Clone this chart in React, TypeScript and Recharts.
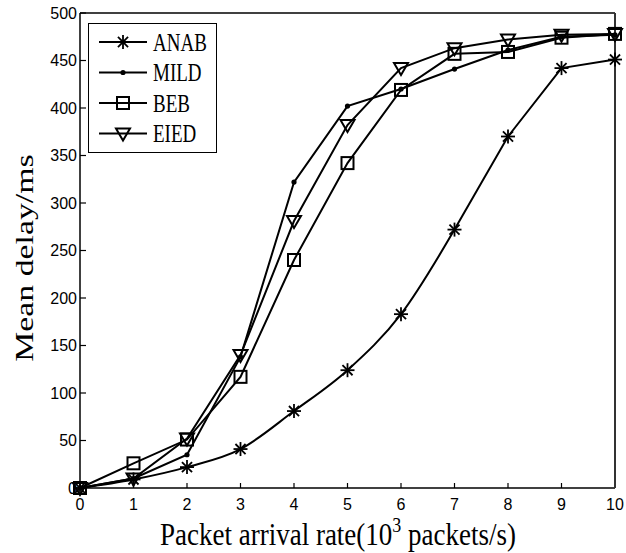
import React from 'react';
import { LineChart, Line, XAxis, YAxis, Legend } from 'recharts';

const rates = [0, 1, 2, 3, 4, 5, 6, 7, 8, 9, 10];
const anab = [0, 9, 22, 41, 81, 124, 183, 272, 370, 442, 451];
const mild = [0, 10, 35, 138, 322, 402, 420, 441, 461, 475, 477];
const beb = [0, 26, 51, 117, 240, 342, 419, 457, 459, 474, 478];
const eied = [0, 10, 52, 140, 281, 382, 442, 463, 472, 477, 478];
const xTicks = [0, 1, 2, 3, 4, 5, 6, 7, 8, 9, 10];
const yTicks = [0, 50, 100, 150, 200, 250, 300, 350, 400, 450, 500];
const seriesNames = ['ANAB', 'MILD', 'BEB', 'EIED'];
// ANAB is drawn smooth up to rate 7, straight afterwards
const anabSmoothUntil = 7;

const data = rates.map((r, i) => ({
  x: r,
  ANAB: anab[i],
  ANAB_smooth: r <= anabSmoothUntil ? anab[i] : null,
  ANAB_straight: r >= anabSmoothUntil ? anab[i] : null,
  MILD: mild[i],
  BEB: beb[i],
  EIED: eied[i],
}));

const SW = 2;

function StarMark({ cx, cy, s = 7 }: any) {
  const d = s * 0.72;
  return (
    <g stroke="#000" strokeWidth={1.8}>
      <line x1={cx - s} y1={cy} x2={cx + s} y2={cy} />
      <line x1={cx} y1={cy - s} x2={cx} y2={cy + s} />
      <line x1={cx - d} y1={cy - d} x2={cx + d} y2={cy + d} />
      <line x1={cx - d} y1={cy + d} x2={cx + d} y2={cy - d} />
    </g>
  );
}
function DotMark({ cx, cy }: any) {
  return <circle cx={cx} cy={cy} r={2.6} fill="#000" stroke="none" />;
}
function SquareMark({ cx, cy }: any) {
  return <rect x={cx - 6} y={cy - 6} width={12} height={12} fill="none" stroke="#000" strokeWidth={2} />;
}
function TriMark({ cx, cy }: any) {
  return (
    <polygon
      points={`${cx - 7},${cy - 5} ${cx + 7},${cy - 5} ${cx},${cy + 7}`}
      fill="none"
      stroke="#000"
      strokeWidth={2}
    />
  );
}
const marks: any = { ANAB: StarMark, MILD: DotMark, BEB: SquareMark, EIED: TriMark };

function makeDot(name: string, skipIndex: number = -1) {
  const M = marks[name];
  return (p: any) => {
    const v = p.value;
    const missing = v == null || (Array.isArray(v) && v[1] == null) || p.cy == null || Number.isNaN(p.cy);
    if (missing || p.index === skipIndex) return <g key={`${name}-${p.index}`} />;
    return <M key={`${name}-${p.index}`} cx={p.cx} cy={p.cy} />;
  };
}

function LegendBox() {
  return (
    <div style={{ width: 129, height: 130, border: '1.5px solid #000', background: '#fff', boxSizing: 'border-box' }}>
      <svg width={126} height={127}>
        {seriesNames.map((n, i) => {
          const y = 18 + i * 30.5;
          const M = marks[n];
          return (
            <g key={n}>
              <line x1={10} y1={y} x2={58} y2={y} stroke="#000" strokeWidth={SW} />
              <M cx={34} cy={y} />
              <text
                transform={`translate(64,${y + 8.5}) scale(1,1.32)`}
                fontFamily="'Liberation Serif', serif"
                fontSize={19}
                fill="#000"
              >
                {n}
              </text>
            </g>
          );
        })}
      </svg>
    </div>
  );
}

function XLabel(props: any) {
  return (
    <text
      transform="translate(338,545) scale(1,1.15)"
      textAnchor="middle"
      fontFamily="'Liberation Serif', serif"
      fontSize={27}
      fill="#000"
    >
      <tspan>Packet arrival rate(10</tspan>
      <tspan dy={-11} fontSize={18}>3</tspan>
      <tspan dy={11}> packets/s)</tspan>
    </text>
  );
}
function YLabel(props: any) {
  return (
    <text
      transform="translate(33,258) rotate(-90) scale(1.3,1)"
      textAnchor="middle"
      fontFamily="'Liberation Serif', serif"
      fontSize={26}
      fill="#000"
    >
      Mean delay/ms
    </text>
  );
}

const tickStyle = { fontFamily: "'Liberation Sans', Arial, sans-serif", fontSize: 16, fill: '#000' };
const tickLineStyle = { stroke: '#000', strokeWidth: 1.2 };

export default function App() {
  return (
    <div style={{ position: 'absolute', left: 0, top: 0, background: '#fff' }}>
      <LineChart width={626} height={553} data={data} margin={{ top: 0, right: 0, left: 0, bottom: 35 }}>
        <XAxis
          dataKey="x"
          type="number"
          domain={[0, 10]}
          ticks={xTicks}
          height={30}
          tickSize={-5}
          tickMargin={16}
          tickLine={tickLineStyle}
          axisLine={{ stroke: '#000', strokeWidth: 1.5 }}
          tick={tickStyle}
          label={<XLabel />}
        />
        <XAxis
          xAxisId="top"
          dataKey="x"
          orientation="top"
          type="number"
          domain={[0, 10]}
          ticks={xTicks}
          height={13}
          tick={false}
          tickSize={-5}
          axisLine={{ stroke: '#000', strokeWidth: 1.5 }}
          tickLine={tickLineStyle}
        />
        <YAxis
          type="number"
          domain={[0, 500]}
          ticks={yTicks}
          width={80}
          tickSize={-6}
          tickMargin={9}
          tickLine={tickLineStyle}
          axisLine={{ stroke: '#000', strokeWidth: 1.5 }}
          tick={tickStyle}
          label={<YLabel />}
        />
        <YAxis
          yAxisId="right"
          orientation="right"
          type="number"
          domain={[0, 500]}
          ticks={yTicks}
          width={11}
          tick={false}
          tickSize={-6}
          axisLine={{ stroke: '#333', strokeWidth: 2 }}
          tickLine={tickLineStyle}
        />
        <Legend
          layout="vertical"
          align="center"
          verticalAlign="middle"
          wrapperStyle={{ left: 88, top: 23, width: 129, height: 130 }}
          content={() => <LegendBox />}
        />
        <Line
          dataKey="ANAB_smooth"
          type="monotone"
          stroke="#000"
          strokeWidth={SW}
          dot={makeDot('ANAB', anabSmoothUntil)}
          activeDot={false}
          isAnimationActive={false}
        />
        <Line
          dataKey="ANAB_straight"
          type="linear"
          stroke="#000"
          strokeWidth={SW}
          dot={makeDot('ANAB')}
          activeDot={false}
          isAnimationActive={false}
        />
        {seriesNames.slice(1).map((n) => (
          <Line
            key={n}
            dataKey={n}
            type="linear"
            stroke="#000"
            strokeWidth={SW}
            dot={makeDot(n)}
            activeDot={false}
            isAnimationActive={false}
          />
        ))}
      </LineChart>
    </div>
  );
}
